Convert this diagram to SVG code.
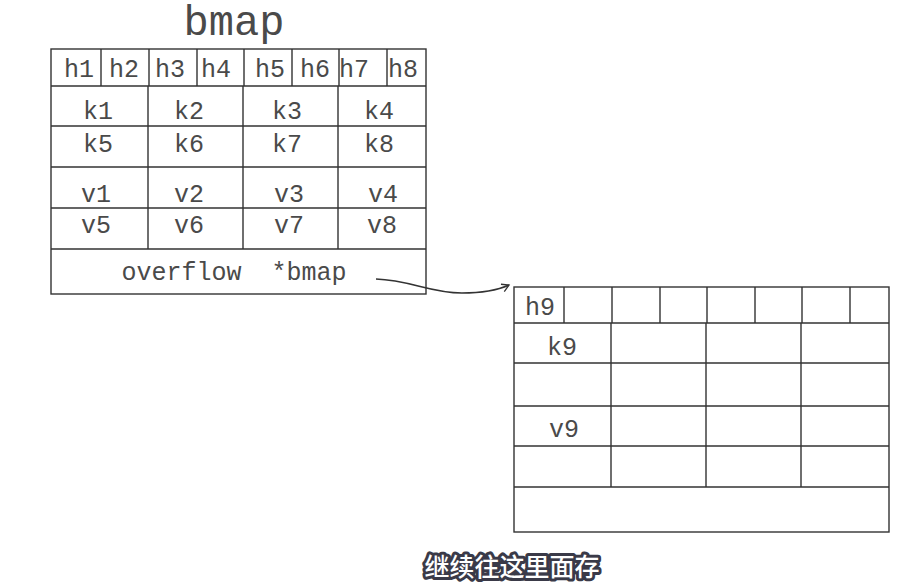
<svg xmlns="http://www.w3.org/2000/svg" width="901" height="587" viewBox="0 0 901 587">
<style>
.ln{stroke:#333;stroke-width:1.4;fill:none}
.t{font-family:"Liberation Mono","DejaVu Sans Mono",monospace;font-size:25px;fill:#4a4a4a;text-anchor:middle}
.sub{font-family:"Noto Sans CJK SC",sans-serif;font-size:25px;font-weight:500;fill:#fff;stroke:#3a3a48;stroke-width:6;paint-order:stroke;stroke-linejoin:round;text-anchor:middle}
</style>
<defs>
<marker id="ah" markerWidth="10" markerHeight="10" refX="8" refY="5" orient="auto" markerUnits="userSpaceOnUse">
<path d="M1,1 L8,5 L1,9" fill="none" stroke="#333" stroke-width="1.3"/>
</marker>
</defs>
<rect width="901" height="587" fill="#fff"/>
<g id="bmap1">
<text class="t" x="234" y="35" style="font-size:42px">bmap</text>
<rect class="ln" x="51" y="49" width="375" height="245"/>
<path class="ln" d="M51,86H426M51,126H426M51,167H426M51,208H426M51,249H426"/>
<path class="ln" d="M101,49V86M149,49V86M197,49V86M244,49V86M292,49V86M339,49V86M387,49V86"/>
<path class="ln" d="M148,86V249M243,86V249M338,86V249"/>
<text class="t" x="79" y="77">h1</text>
<text class="t" x="124" y="77">h2</text>
<text class="t" x="170" y="77">h3</text>
<text class="t" x="216" y="77">h4</text>
<text class="t" x="270" y="77">h5</text>
<text class="t" x="315" y="77">h6</text>
<text class="t" x="354" y="77">h7</text>
<text class="t" x="403" y="77">h8</text>
<text class="t" x="98" y="119">k1</text>
<text class="t" x="189" y="119">k2</text>
<text class="t" x="287" y="119">k3</text>
<text class="t" x="379" y="119">k4</text>
<text class="t" x="98" y="152">k5</text>
<text class="t" x="189" y="152">k6</text>
<text class="t" x="287" y="152">k7</text>
<text class="t" x="379" y="152">k8</text>
<text class="t" x="96" y="202">v1</text>
<text class="t" x="189" y="202">v2</text>
<text class="t" x="289" y="202">v3</text>
<text class="t" x="383" y="202">v4</text>
<text class="t" x="96" y="233">v5</text>
<text class="t" x="189" y="233">v6</text>
<text class="t" x="289" y="233">v7</text>
<text class="t" x="382" y="233">v8</text>
<text class="t" x="234" y="280" xml:space="preserve">overflow  *bmap</text>
</g>
<g id="bmap2">
<rect class="ln" x="514" y="287" width="375" height="245"/>
<path class="ln" d="M514,323H889M514,363H889M514,406H889M514,446H889M514,487H889"/>
<path class="ln" d="M564,287V323M612,287V323M660,287V323M707,287V323M755,287V323M802,287V323M850,287V323"/>
<path class="ln" d="M611,323V487M706,323V487M801,323V487"/>
<text class="t" x="540" y="315">h9</text>
<text class="t" x="562" y="355">k9</text>
<text class="t" x="564" y="437">v9</text>
</g>
<g id="connectors">
<path class="ln" d="M376,279 C410,280 430,293 462,293 C485,293 498,290 509,285" marker-end="url(#ah)"/>
</g>
<text class="sub" x="512" y="576">继续往这里面存</text>
</svg>
